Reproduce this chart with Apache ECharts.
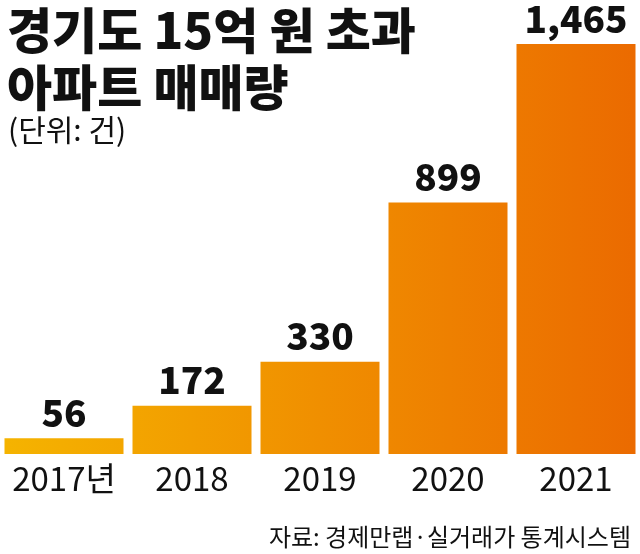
<!DOCTYPE html>
<html>
<head>
<meta charset="utf-8">
<script src="https://cdn.jsdelivr.net/npm/echarts@6/dist/echarts.min.js"></script>
<style>
html, body { margin: 0; padding: 0; background: #fff; }
#myChart { width: 640px; height: 554px; }
</style>
</head>
<body>
<div id="myChart"></div>
<script>
// 경기도 15억 원 초과 아파트 매매량 (단위: 건)
var years = ["2017년", "2018", "2019", "2020", "2021"];
var counts = [56, 172, 330, 899, 1465];

var font = "'Noto Sans CJK KR', 'Noto Sans', sans-serif";
var chart = echarts.init(document.getElementById("myChart"));

chart.setOption({
  backgroundColor: "#fff",
  textStyle: { fontFamily: font },
  title: [
    {
      text: "경기도 15억 원 초과\n아파트 매매량",
      left: 2,
      top: -3,
      textStyle: { fontSize: 49, fontWeight: 900, color: "#111", lineHeight: 57, fontFamily: font }
    },
    {
      text: "(단위: 건)",
      left: 3,
      top: 110,
      textStyle: { fontSize: 30, fontWeight: "normal", color: "#111", fontFamily: font }
    },
    {
      text: "자료: 경제만랩·실거래가 통계시스템",
      right: 4,
      bottom: 0,
      textStyle: { fontSize: 24, fontWeight: "normal", color: "#111", fontFamily: font }
    }
  ],
  grid: { left: -2, right: -3, top: 44, bottom: 100 },
  xAxis: {
    type: "category",
    data: years,
    axisLine: { show: false },
    axisTick: { show: false },
    axisLabel: { color: "#111", fontSize: 33, margin: 8, interval: 0, hideOverlap: false, fontFamily: font }
  },
  yAxis: {
    type: "value",
    min: 0,
    max: 1465,
    show: false
  },
  series: [
    {
      type: "bar",
      data: counts,
      barWidth: 119,
      itemStyle: {
        color: new echarts.graphic.LinearGradient(0, 0, 640, 0, [
          { offset: 0, color: "#F5B400" },
          { offset: 1, color: "#EB6A00" }
        ], true)
      },
      label: {
        show: true,
        position: "top",
        distance: 7,
        color: "#111",
        fontSize: 37,
        fontWeight: 900,
        fontFamily: font,
        formatter: function (p) {
          return String(p.value).replace(/\B(?=(\d{3})+(?!\d))/g, ",");
        }
      }
    }
  ]
});
</script>
</body>
</html>
